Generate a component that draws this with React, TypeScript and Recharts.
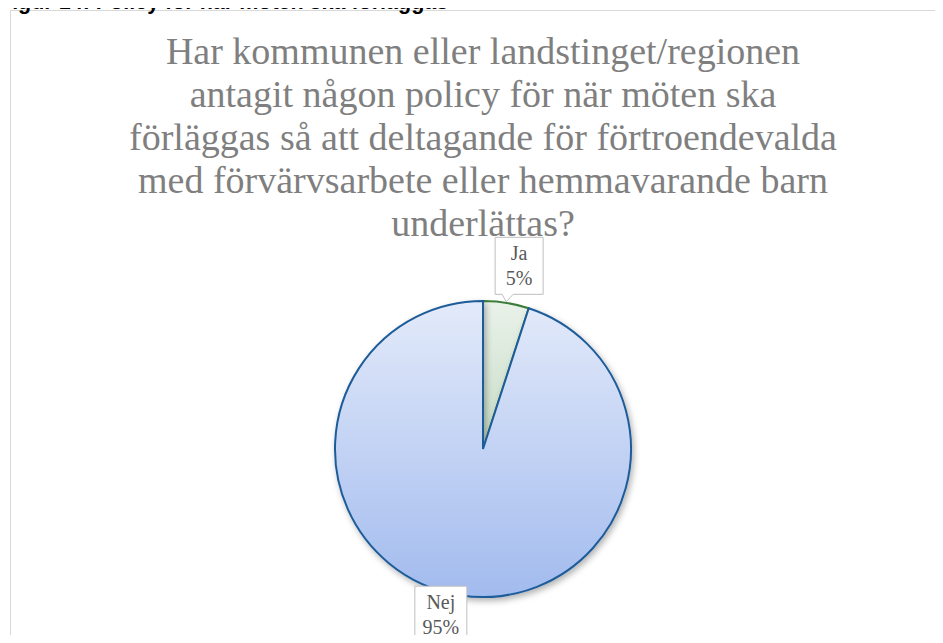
import React from "react";
import { PieChart, Pie, Cell } from "recharts";

const categories = ["Ja", "Nej"];
const values = [5, 95];
const titleLines = [
  "Har kommunen eller landstinget/regionen",
  "antagit någon policy för när möten ska",
  "förläggas så att deltagande för förtroendevalda",
  "med förvärvsarbete eller hemmavarande barn",
  "underlättas?",
];
const figureCaption = "Figur 14: Policy för när möten ska förläggas";

const data = categories.map((name, i) => ({ name, value: values[i] }));

const W = 943;
const H = 643;
const RAD = Math.PI / 180;

const labelStyle: Record<string, { dx: number; dy: number; w: number; h: number; pointer: boolean }> = {
  Ja: { dx: 13, dy: -37, w: 48, h: 57, pointer: true },
  Nej: { dx: -19, dy: 20, w: 52, h: 58, pointer: false },
};

const renderLabel = (props: any) => {
  const { cx, cy, midAngle, outerRadius, name, percent } = props;
  const ax = cx + outerRadius * Math.cos(-midAngle * RAD);
  const ay = cy + outerRadius * Math.sin(-midAngle * RAD);
  const st = labelStyle[name];
  const bx = ax + st.dx;
  const by = ay + st.dy;
  const left = bx - st.w / 2;
  const top = by - st.h / 2;
  const right = bx + st.w / 2;
  const bottom = by + st.h / 2;
  let d = `M${left},${top} H${right} V${bottom} H${left} Z`;
  if (st.pointer) {
    const px = ax;
    d = `M${left},${top} H${right} V${bottom} H${px + 7} L${ax},${ay - 1} L${px - 4},${bottom} H${left} Z`;
  }
  return (
    <g key={`lbl-${name}`}>
      <path d={d} fill="#ffffff" stroke="#bfbfbf" strokeWidth={1} />
      <text
        x={bx}
        y={top + 23}
        textAnchor="middle"
        fontFamily="'Liberation Serif', 'Times New Roman', serif"
        fontSize={20}
        fill="#595959"
      >
        {name}
      </text>
      <text
        x={bx}
        y={top + 48}
        textAnchor="middle"
        fontFamily="'Liberation Serif', 'Times New Roman', serif"
        fontSize={20}
        fill="#595959"
      >
        {`${Math.round(percent * 100)}%`}
      </text>
    </g>
  );
};

export default function App() {
  return (
    <div style={{ margin: -8, width: W, height: H, position: "relative", overflow: "hidden", background: "#fff" }}>
      <svg width={W} height={H} style={{ position: "absolute", left: 0, top: 0 }}>
        <rect x={10.5} y={10.5} width={W + 20} height={H + 20} fill="#fff" stroke="#d9d9d9" strokeWidth={1} />
        <text x={-1} y={9} fontFamily="'Liberation Sans', Arial, sans-serif" fontWeight="bold" fontSize={21.5} fill="#000">
          {figureCaption}
        </text>
        {titleLines.map((t, i) => (
          <text
            key={i}
            x={483}
            y={64 + i * 43}
            textAnchor="middle"
            fontFamily="'Liberation Serif', 'Times New Roman', serif"
            fontSize={38}
            fill="#7f7f7f"
          >
            {t}
          </text>
        ))}
      </svg>
      <div style={{ position: "absolute", left: 0, top: 0 }}>
        <PieChart width={W} height={H} margin={{ top: 0, right: 0, bottom: 0, left: 0 }}>
          <defs>
            <linearGradient id="gradNej" x1="0" y1="0" x2="0" y2="1">
              <stop offset="0%" stopColor="#e3eafa" />
              <stop offset="100%" stopColor="#a2bbee" />
            </linearGradient>
            <linearGradient id="gradJa" x1="0" y1="0" x2="0" y2="1">
              <stop offset="0%" stopColor="#eaf2ea" />
              <stop offset="100%" stopColor="#c5dbc5" />
            </linearGradient>
            <filter id="pieShadow" x="-10%" y="-10%" width="120%" height="120%">
              <feDropShadow dx="2" dy="3" stdDeviation="3" floodColor="#000" floodOpacity="0.3" />
            </filter>
          </defs>
          <Pie
            data={data}
            dataKey="value"
            nameKey="name"
            cx={483}
            cy={449}
            outerRadius={148}
            startAngle={90}
            endAngle={-270}
            isAnimationActive={false}
            labelLine={false}
            label={renderLabel}
          >
            <Cell key="Ja" fill="url(#gradJa)" stroke="#3b7d3b" strokeWidth={2} />
            <Cell key="Nej" fill="url(#gradNej)" stroke="#1f5c99" strokeWidth={2} filter="url(#pieShadow)" />
          </Pie>
        </PieChart>
      </div>
    </div>
  );
}
